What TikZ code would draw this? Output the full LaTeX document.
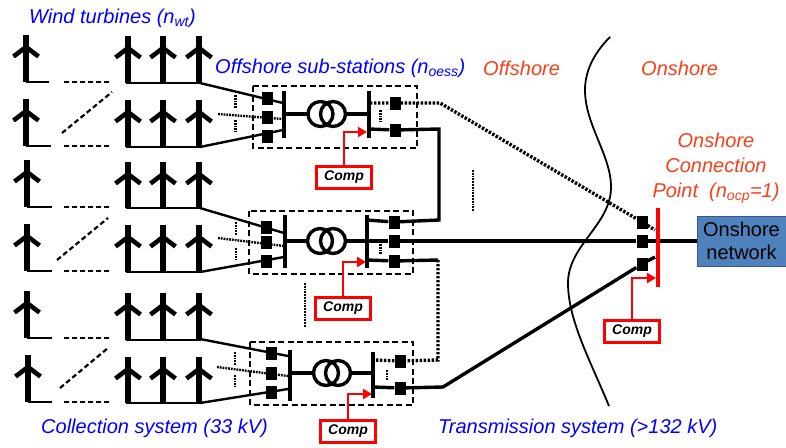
\documentclass[tikz,border=0pt]{standalone}
\usepackage{fontspec}
\setmainfont{Liberation Sans}
\usetikzlibrary{arrows.meta,calc,positioning}
\definecolor{netblue}{HTML}{4F81BD}
\definecolor{labelred}{HTML}{F5401A}
\newcommand{\turbinemast}[3]{
	\draw[line width=6pt] (#1,#2) -- (#1,#3);
	\draw[line width=4.6pt] (#1-12.5,#2+21.5) -- (#1,#2+12) -- (#1+12.5,#2+21.5);
	}
\newcommand{\turbinerow}[6]{
	\turbinemast{#1}{#2}{#3}
	\turbinemast{128}{#4}{#5}
	\turbinemast{163}{#4}{#5}
	\turbinemast{199}{#4}{#5}
	\draw[line width=2.6pt] (#1,#3) -- (#6,#3);
	\draw[line width=2.6pt] (126,#5) -- (201,#5);
	\draw[shortdash] (64,#3) -- (109,#3);
	}
\newcommand{\transformer}[3]{
	\draw[line width=3.4pt] (#1,#3) circle (12.5) (#2,#3) circle (12.5);
	}
\tikzset{
	breaker/.style={fill=black, minimum width=11pt, minimum height=13pt, inner sep=0pt},
	shortdash/.style={line width=2.2pt, dash pattern=on 5pt off 3pt},
	stationbox/.style={line width=1.9pt, dash pattern=on 6pt off 3.5pt},
	busbar/.style={line width=3.4pt},
	feeder/.style={line width=2.4pt},
	link/.style={line width=3.4pt},
	dottedlink/.style={line width=3.4pt, dash pattern=on 2.4pt off 1.6pt},
	thindots/.style={line width=2.4pt, dash pattern=on 1.8pt off 1pt},
	compbox/.style={draw=red, line width=3pt, fill=white, minimum width=55pt, minimum height=22pt, inner sep=0pt, font=\fontsize{14}{14}\selectfont\bfseries\itshape},
	compline/.style={draw=red, line width=2.6pt, -{Triangle[length=9pt,width=10pt]}},
	bluetext/.style={text=blue, inner sep=0pt, font=\fontsize{20}{20}\selectfont\itshape},
	redtext/.style={text=labelred, inner sep=0pt, font=\fontsize{20}{25}\selectfont\itshape}
}
\begin{document}
\begin{tikzpicture}[x=1pt,y=-1pt]
	\useasboundingbox (0,0) rectangle (786,447);

	% sea shore
	\draw[line width=1.8pt] (610,37) .. controls (597,50) and (585,68) .. (585,90) .. controls (585,125) and (611,155) .. (611,187) .. controls (611,225) and (568,245) .. (568,283) .. controls (568,320) and (590,360) .. (609,406);

	% turbine strings
	\turbinerow{26}{35}{82}{36}{83}{49}
	\turbinerow{26}{99}{146}{100}{147}{51}
	\turbinerow{27}{160}{207}{162}{208}{52}
	\turbinerow{27}{224}{271}{225}{272}{52}
	\turbinerow{27}{291}{338}{293}{340}{52}
	\turbinerow{28}{355}{402}{357}{403}{52}
	\draw[shortdash] (62,133) -- (112,92);
	\draw[shortdash] (57,260) -- (108,218);
	\draw[shortdash] (60,388) -- (108,348);

	% sub-station boxes
	\draw[stationbox] (253,86) rectangle (417,148);
	\draw[stationbox] (249,211) rectangle (413,274);
	\draw[stationbox] (250,342) rectangle (413,405);

	% left breakers
	\node[breaker] (ba) at (267,98) {};
	\node[breaker] (bb) at (267,117) {};
	\node[breaker] (bc) at (267,136) {};
	\node[breaker] (bd) at (266,227) {};
	\node[breaker] (be) at (266,242) {};
	\node[breaker] (bf) at (266,261) {};
	\node[breaker] (bg) at (271,353) {};
	\node[breaker] (bh) at (271,373) {};
	\node[breaker] (bi) at (271,392) {};

	% right breakers
	\node[breaker] (ca) at (395,103) {};
	\node[breaker] (cb) at (395,130) {};
	\node[breaker] (cc) at (394,222) {};
	\node[breaker] (cd) at (394,241) {};
	\node[breaker] (ce) at (394,261) {};
	\node[breaker] (cf) at (400,361) {};
	\node[breaker] (cg) at (400,388) {};

	% onshore breakers
	\node[breaker] (da) at (642,222) {};
	\node[breaker] (db) at (642,241) {};
	\node[breaker] (dc) at (642,264) {};

	% buses
	\draw[busbar] (284,91) -- (284,138);
	\draw[busbar] (369,91) -- (369,138);
	\draw[busbar] (285,215) -- (285,268);
	\draw[busbar] (367,215) -- (367,268);
	\draw[busbar] (290,350) -- (290,401);
	\draw[busbar] (373,352) -- (373,398);

	% transformers
	\transformer{320.5}{333}{114}
	\transformer{320}{333}{241}
	\transformer{326}{338}{373}
	\draw[busbar] (284,114) -- (308,114) (345.5,114) -- (369,114);
	\draw[busbar] (285,241) -- (307.5,241) (345.5,241) -- (367,241);
	\draw[busbar] (290,373) -- (313.5,373) (350.5,373) -- (373,373);

	% collection feeders
	\draw[feeder] (200,83) -- (283,103);
	\draw[feeder] (200,147) -- (283,130);
	\draw[feeder] (200,208) -- (284,233);
	\draw[feeder] (200,272) -- (284,257);
	\draw[feeder] (200,339) -- (288,356);
	\draw[feeder] (200,403) -- (288,389);
	\draw[thindots] (218,114) -- (283,119);
	\draw[thindots] (218,238) -- (284,246);
	\draw[thindots] (217,367) -- (288,376);
	\draw[thindots] (235.5,95) -- (235.5,108) (235.5,120) -- (235.5,132);
	\draw[thindots] (236,222) -- (236,235) (236,248) -- (236,260);
	\draw[thindots] (235,352) -- (235,365) (235,375) -- (235,387);
	\draw[thindots] (380.5,110) -- (380.5,122);
	\draw[thindots] (380.5,244) -- (380.5,254);
	\draw[thindots] (387,370) -- (387,380);

	% transmission links
	\coordinate (ta) at (439,129);
	\coordinate (tb) at (439,220);
	\coordinate (tc) at (438,260);
	\coordinate (td) at (438,360);
	\coordinate (te) at (440,103);
	\coordinate (tf) at (443,387);
	\draw[link] (369,129) -- (cb) -- (ta) -- (tb) -- (cc) -- (367,220);
	\draw[link] (367,260) -- (ce) -- (tc);
	\draw[dottedlink] (tc) -- (td) -- (cf) -- (375,360);
	\draw[dottedlink] (370,103) -- (ca) -- (te) -- (da) -- (655,230);
	\draw[link] (373,387) -- (cg) -- (tf) -- (dc) -- (655,257);
	\draw[thindots] (305,283) -- (305,327);
	\draw[thindots] (473,170) -- (473,212);

	% onshore connection
	\node[draw=netblue!70!black, fill=netblue, line width=1pt, minimum width=89pt, minimum height=50pt, inner sep=0pt, align=center, font=\fontsize{20}{23}\selectfont] (net) at (741.5,241) {Onshore\\network};
	\draw[link] (367,241) -- (cd) -- (db) -- (net);
	\draw[red, line width=4.8pt] (658,208) -- (658,287);

	% compensation
	\node[compbox] (compa) at (344,177) {Comp};
	\node[compbox] (compb) at (343,308.5) {Comp};
	\node[compbox] (compc) at (348,431) {Comp};
	\node[compbox] (compd) at (632,331) {Comp};
	\draw[compline] (compa.north) |- (367,132);
	\draw[compline] (compb.north) |- (366,262);
	\draw[compline] (compc.north) |- (372,394);
	\draw[compline] (compd.north) |- (656,278);

	% labels
	\node[bluetext, anchor=west] (windlabel) at (29,18) {Wind turbines (n\textsubscript{wt})};
	\node[bluetext, anchor=west] (oesslabel) at (215,68) {Offshore sub-stations (n\textsubscript{oess})};
	\node[bluetext, anchor=west] (colllabel) at (41,428) {Collection system (33 kV)};
	\node[bluetext, anchor=west] (translabel) at (438,428) {Transmission system (>132 kV)};
	\node[redtext, anchor=west] (offlabel) at (483,68) {Offshore};
	\node[redtext, anchor=west] (onlabel) at (641,68) {Onshore};
	\node[redtext, align=center] (ocplabel) at (716,168) {Onshore\\Connection\\Point~~(n\textsubscript{ocp}=1)};
\end{tikzpicture}
\end{document}
